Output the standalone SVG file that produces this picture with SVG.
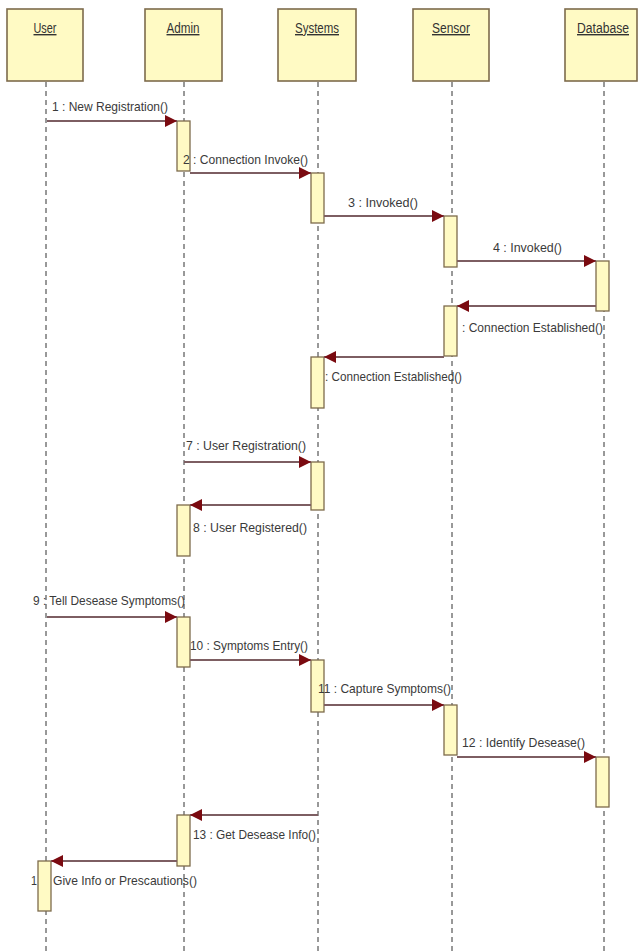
<svg xmlns="http://www.w3.org/2000/svg" width="638" height="951" viewBox="0 0 638 951">
<defs>
<marker id="ah" markerUnits="userSpaceOnUse" markerWidth="14" markerHeight="14" refX="12" refY="6" orient="auto">
<path d="M0,0 L12,6 L0,12 Z" fill="#7a0a10"/>
</marker>
<style>
.box{fill:#fffac4;stroke:#7d6b4c;stroke-width:1.6}
.act{fill:#fffac4;stroke:#7d6b4c;stroke-width:1.3}
.life{stroke:#333;stroke-width:1;stroke-dasharray:5 4;fill:none}
.msg{stroke:#7d5e62;stroke-width:2.2;fill:none;marker-end:url(#ah)}
.name{font-family:"Liberation Sans",Arial,sans-serif;font-size:14px;fill:#333;text-decoration:underline;text-anchor:middle}
.lbl{font-family:"Liberation Sans",Arial,sans-serif;font-size:13.5px;fill:#3a3a3a}
</style>
</defs>
<g id="lifelines">
<line class="life" x1="46" y1="82" x2="46" y2="951"/>
<line class="life" x1="184" y1="82" x2="184" y2="951"/>
<line class="life" x1="318" y1="82" x2="318" y2="951"/>
<line class="life" x1="452" y1="82" x2="452" y2="951"/>
<line class="life" x1="604" y1="82" x2="604" y2="951"/>
</g>
<g id="user"><rect class="box" x="7" y="9" width="76" height="72"/><text class="name" x="45" y="33" textLength="23" lengthAdjust="spacingAndGlyphs">User</text></g>
<g id="admin"><rect class="box" x="145" y="9" width="77" height="72"/><text class="name" x="183" y="33" textLength="33" lengthAdjust="spacingAndGlyphs">Admin</text></g>
<g id="systems"><rect class="box" x="278" y="9" width="78" height="72"/><text class="name" x="317" y="33" textLength="44" lengthAdjust="spacingAndGlyphs">Systems</text></g>
<g id="sensor"><rect class="box" x="413" y="9" width="76" height="72"/><text class="name" x="451" y="33" textLength="38" lengthAdjust="spacingAndGlyphs">Sensor</text></g>
<g id="database"><rect class="box" x="565" y="9" width="72" height="72"/><text class="name" x="603" y="33" textLength="52" lengthAdjust="spacingAndGlyphs">Database</text></g>
<g id="activations">
<rect class="act" x="177" y="121" width="13" height="50"/>
<rect class="act" x="311" y="173" width="13" height="50"/>
<rect class="act" x="444" y="216" width="13" height="51"/>
<rect class="act" x="596" y="261" width="13" height="50"/>
<rect class="act" x="444" y="306" width="13" height="50"/>
<rect class="act" x="311" y="357" width="13" height="51"/>
<rect class="act" x="311" y="462" width="13" height="48"/>
<rect class="act" x="177" y="505" width="13" height="51"/>
<rect class="act" x="177" y="617" width="13" height="50"/>
<rect class="act" x="311" y="660" width="13" height="52"/>
<rect class="act" x="444" y="705" width="13" height="50"/>
<rect class="act" x="596" y="757" width="13" height="50"/>
<rect class="act" x="177" y="815" width="13" height="51"/>
<rect class="act" x="38" y="861" width="13" height="50"/>
</g>
<g id="connectors">
<line class="msg" x1="47" y1="121" x2="177" y2="121"/>
<line class="msg" x1="190" y1="173" x2="311" y2="173"/>
<line class="msg" x1="324" y1="216" x2="444" y2="216"/>
<line class="msg" x1="457" y1="261" x2="596" y2="261"/>
<line class="msg" x1="596" y1="306" x2="457" y2="306"/>
<line class="msg" x1="444" y1="357" x2="324" y2="357"/>
<line class="msg" x1="184" y1="462" x2="311" y2="462"/>
<line class="msg" x1="311" y1="505" x2="190" y2="505"/>
<line class="msg" x1="47" y1="617" x2="177" y2="617"/>
<line class="msg" x1="190" y1="660" x2="311" y2="660"/>
<line class="msg" x1="324" y1="705" x2="444" y2="705"/>
<line class="msg" x1="457" y1="757" x2="596" y2="757"/>
<line class="msg" x1="318" y1="815" x2="190" y2="815"/>
<line class="msg" x1="177" y1="861" x2="51" y2="861"/>
</g>
<g id="labels">
<text class="lbl" x="52" y="111" textLength="116" lengthAdjust="spacingAndGlyphs">1 : New Registration()</text>
<text class="lbl" x="183" y="164" textLength="125" lengthAdjust="spacingAndGlyphs">2 : Connection Invoke()</text>
<text class="lbl" x="348" y="207" textLength="70" lengthAdjust="spacingAndGlyphs">3 : Invoked()</text>
<text class="lbl" x="493" y="252" textLength="69" lengthAdjust="spacingAndGlyphs">4 : Invoked()</text>
<text class="lbl" x="462" y="332" textLength="141" lengthAdjust="spacingAndGlyphs">: Connection Established()</text>
<text class="lbl" x="325" y="381" textLength="137" lengthAdjust="spacingAndGlyphs">: Connection Established()</text>
<text class="lbl" x="186" y="450" textLength="120" lengthAdjust="spacingAndGlyphs">7 : User Registration()</text>
<text class="lbl" x="193" y="532" textLength="114" lengthAdjust="spacingAndGlyphs">8 : User Registered()</text>
<text class="lbl" x="33" y="605" textLength="152" lengthAdjust="spacingAndGlyphs">9 : Tell Desease Symptoms()</text>
<text class="lbl" x="190" y="650" textLength="118" lengthAdjust="spacingAndGlyphs">10 : Symptoms Entry()</text>
<text class="lbl" x="318" y="693" textLength="133" lengthAdjust="spacingAndGlyphs">11 : Capture Symptoms()</text>
<text class="lbl" x="462" y="747" textLength="123" lengthAdjust="spacingAndGlyphs">12 : Identify Desease()</text>
<text class="lbl" x="193" y="839" textLength="123" lengthAdjust="spacingAndGlyphs">13 : Get Desease Info()</text>
<text class="lbl" x="31" y="885" textLength="6" lengthAdjust="spacingAndGlyphs">1</text>
<text class="lbl" x="53" y="885" textLength="144" lengthAdjust="spacingAndGlyphs">Give Info or Prescautions()</text>
</g>
</svg>
